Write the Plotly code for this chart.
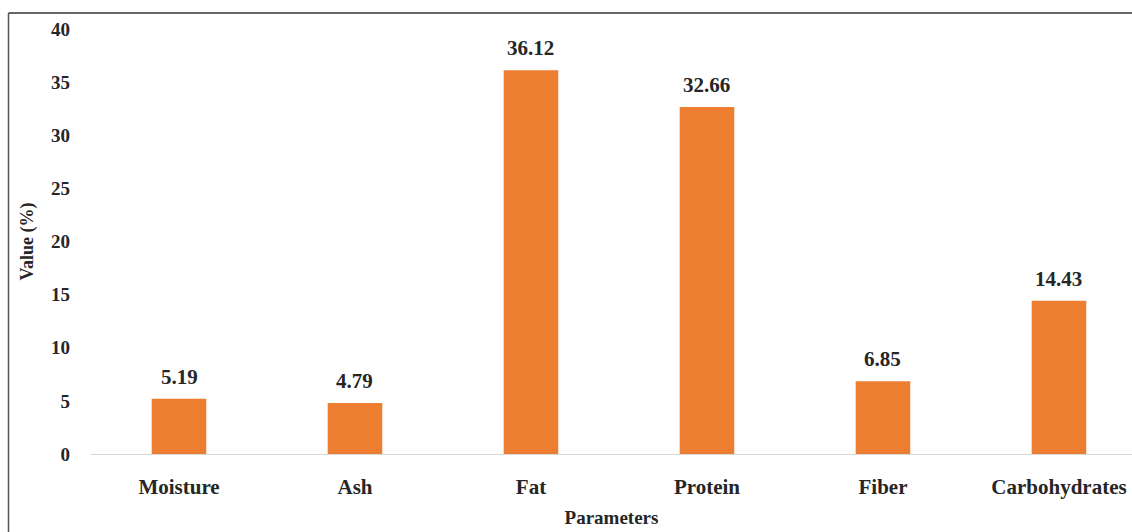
import plotly.graph_objects as go

categories = ["Moisture", "Ash", "Fat", "Protein", "Fiber", "Carbohydrates"]
values = [5.19, 4.79, 36.12, 32.66, 6.85, 14.43]
value_labels = ["5.19", "4.79", "36.12", "32.66", "6.85", "14.43"]
y_ticks = [0, 5, 10, 15, 20, 25, 30, 35, 40]

FONT = "Liberation Serif, Times New Roman, serif"
TXT = "#262626"

W, H = 1132, 532
ml, mr, mt, mb = 91, 0, 29, 78
pw = W - ml - mr
ph = H - mt - mb

fig = go.Figure()
fig.add_trace(go.Bar(
    x=categories, y=values, width=0.31,
    marker=dict(color="#ED7D31", line=dict(width=0)),
    hoverinfo="skip",
))

for c, v, lab in zip(categories, values, value_labels):
    fig.add_annotation(x=c, y=v, text="<b>%s</b>" % lab, showarrow=False,
                       yanchor="bottom", yshift=8,
                       font=dict(family=FONT, size=21, color=TXT))

# outer border (top and left)
bx = (8.5 - ml) / pw
by = 1 + (mt - 13) / ph
fig.add_shape(type="line", xref="paper", yref="paper", x0=bx, x1=1.2, y0=by, y1=by,
              line=dict(color="#333333", width=1.5))
fig.add_shape(type="line", xref="paper", yref="paper", x0=bx, x1=bx, y0=by, y1=-0.3,
              line=dict(color="#555555", width=1.5))

fig.update_layout(
    width=W, height=H,
    margin=dict(l=ml, r=mr, t=mt, b=mb),
    paper_bgcolor="white", plot_bgcolor="white",
    showlegend=False,
    font=dict(family=FONT, color=TXT),
    xaxis=dict(
        range=[-0.5, 5.415],
        tickvals=categories, ticktext=["<b>%s</b>" % c for c in categories],
        showline=True, linecolor="#d9d9d9", linewidth=1,
        showgrid=False, zeroline=False, ticks="",
        tickfont=dict(family=FONT, size=21, color=TXT),
        ticklabelstandoff=14,
        title=dict(text="<b>Parameters</b>", font=dict(family=FONT, size=19, color=TXT), standoff=12),
    ),
    yaxis=dict(
        range=[0, 40], tickvals=y_ticks, ticktext=["<b>%d</b>" % t for t in y_ticks],
        showline=False, showgrid=False, zeroline=False, ticks="",
        tickfont=dict(family=FONT, size=19, color=TXT),
        ticklabelstandoff=20,
        title=dict(text="<b>Value (%)</b>", font=dict(family=FONT, size=18, color=TXT), standoff=12),
    ),
)

fig.write_html("out.html")
